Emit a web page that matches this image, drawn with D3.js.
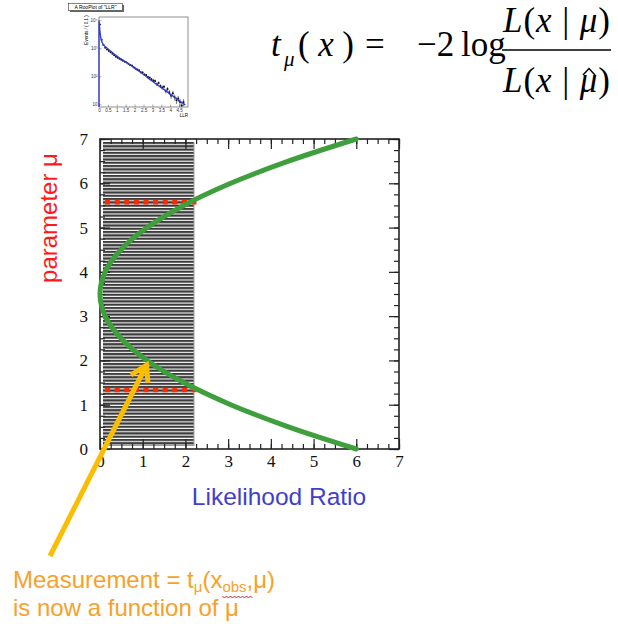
<!DOCTYPE html>
<html>
<head>
<meta charset="utf-8">
<script src="https://cdn.jsdelivr.net/npm/d3@7"></script>
<style>
  body { margin: 0; background: #fff; }
  svg { display: block; }
  .serif { font-family: "Liberation Serif", "DejaVu Serif", serif; }
  .sans { font-family: "Liberation Sans", Arial, sans-serif; }
</style>
</head>
<body>
<div id="chart"></div>
<script>
// Main curve: t_mu(x_obs) against parameter mu
var muVals  = [0, 0.5, 1, 1.5, 2, 2.5, 3, 3.5, 4, 4.5, 5, 5.5, 6, 6.5, 7];
var llrVals = [6.0, 4.41, 3.06, 1.96, 1.10, 0.49, 0.12, 0.0, 0.12, 0.49, 1.10, 1.96, 3.06, 4.41, 6.0];

// Red dotted interval lines (mu levels) and their x extent
var cutLevels = [1.33, 5.57];
var cutRange = [0.12, 2.27];

// Hatched band (llr range)
var hatchRange = [0, 2.2];

var xTicks = [0, 1, 2, 3, 4, 5, 6, 7];
var yTicks = [0, 1, 2, 3, 4, 5, 6, 7];

// Inset RooPlot of LLR: fitted curve and data
var fitX = [0, 0, 0.02, 0.05, 0.1, 0.2, 0.4, 0.6, 0.8, 1.0, 1.5, 2.0, 2.5, 3.0, 3.5, 4.0, 4.5, 4.85];
var fitY = [8, 9500, 7000, 4200, 2400, 1500, 1080, 840, 660, 530, 330, 195, 115, 66, 39, 23, 13.5, 9.5];
var ptX = [0.05, 0.15, 0.25, 0.35, 0.45, 0.55, 0.65, 0.75, 0.85, 0.95, 1.05, 1.15, 1.25, 1.35, 1.45, 1.55, 1.65, 1.75, 1.85, 1.95,
           2.05, 2.15, 2.25, 2.35, 2.45, 2.55, 2.65, 2.75, 2.85, 2.95, 3.05, 3.15, 3.25, 3.35, 3.45, 3.55, 3.65, 3.75, 3.85, 3.95,
           4.05, 4.15, 4.25, 4.35, 4.45, 4.55, 4.65, 4.75];
var ptY = [7000, 2000, 1300, 1050, 900, 800, 720, 640, 560, 500, 460, 420, 390, 360, 330, 310, 280, 250, 240, 210,
           190, 175, 165, 140, 135, 115, 110, 95, 88, 78, 70, 68, 52, 58, 45, 40, 42, 30, 35, 27,
           20, 25, 18, 14, 16, 12, 9, 12];
var insetYTicks = [10, 100, 1000, 10000];
var insetYLabels = ["10", "10²", "10³", "10⁴"];
var insetXTicks = [0, 0.5, 1, 1.5, 2, 2.5, 3, 3.5, 4, 4.5];

var W = 618, H = 624;
var svg = d3.select("#chart").append("svg")
  .attr("width", W).attr("height", H);
svg.append("rect").attr("width", W).attr("height", H).attr("fill", "#fff");

//Scales for main frame
var x = d3.scaleLinear().domain([0, 7]).range([100, 399]);
var y = d3.scaleLinear().domain([0, 7]).range([449, 139]);

// hatch pattern
var defs = svg.append("defs");
var pat = defs.append("pattern").attr("id", "hatch")
  .attr("patternUnits", "userSpaceOnUse")
  .attr("width", 10).attr("height", 3.3);
pat.append("rect").attr("width", 10).attr("height", 3.3).attr("fill", "#fff");
pat.append("rect").attr("width", 10).attr("height", 2.2).attr("fill", "#3c3c3c");

svg.append("rect")
  .attr("x", x(hatchRange[0]) + 3)
  .attr("y", y(7) + 3)
  .attr("width", x(hatchRange[1]) - x(hatchRange[0]) - 3)
  .attr("height", y(0) - y(7) - 6)
  .attr("fill", "url(#hatch)");
svg.append("line")
  .attr("x1", x(hatchRange[1])).attr("x2", x(hatchRange[1]))
  .attr("y1", y(7) + 3).attr("y2", y(0) - 3)
  .attr("stroke", "#999").attr("stroke-width", 1);

// axes (ticks inward, ROOT style)
var minor = d3.range(0, 7.001, 0.25);
function ax(axis, vals, size, labels) {
  return axis.tickValues(vals).tickSize(size).tickFormat(labels ? d3.format("d") : "");
}
var gB = svg.append("g").attr("transform", "translate(0," + y(0) + ")");
gB.call(ax(d3.axisBottom(x), minor, -5, false));
gB.append("g").call(ax(d3.axisBottom(x), xTicks, -10, true).tickPadding(6));
var gT = svg.append("g").attr("transform", "translate(0," + y(7) + ")");
gT.call(ax(d3.axisTop(x), minor, -5, false));
gT.append("g").call(ax(d3.axisTop(x), xTicks, -10, false));
var gL = svg.append("g").attr("transform", "translate(" + x(0) + ",0)");
gL.call(ax(d3.axisLeft(y), minor, -5, false));
gL.append("g").call(ax(d3.axisLeft(y), yTicks, -10, true).tickPadding(12));
var gR = svg.append("g").attr("transform", "translate(" + x(7) + ",0)");
gR.call(ax(d3.axisRight(y), minor, -5, false));
gR.append("g").call(ax(d3.axisRight(y), yTicks, -10, false));

svg.selectAll(".domain").remove();
svg.selectAll(".tick line").attr("stroke", "#222").attr("stroke-width", 1.2);
svg.selectAll(".tick text")
  .attr("class", "serif").attr("font-size", 17).attr("fill", "#111");

svg.append("rect")
  .attr("x", x(0)).attr("y", y(7))
  .attr("width", x(7) - x(0)).attr("height", y(0) - y(7))
  .attr("fill", "none").attr("stroke", "#222").attr("stroke-width", 1.6);

// red dotted lines
svg.selectAll(".cut").data(cutLevels).enter().append("line")
  .attr("class", "cut")
  .attr("x1", x(cutRange[0])).attr("x2", x(cutRange[1]))
  .attr("y1", function(d) { return y(d); }).attr("y2", function(d) { return y(d); })
  .attr("stroke", "#ff2a00").attr("stroke-width", 4.5)
  .attr("stroke-dasharray", "5,4.6");

// green curve
var curveData = muVals.map(function(m, i) { return [llrVals[i], m]; });
svg.append("path")
  .datum(curveData)
  .attr("d", d3.line()
    .x(function(d) { return x(d[0]); })
    .y(function(d) { return y(d[1]); })
    .curve(d3.curveCatmullRom))
  .attr("fill", "none").attr("stroke", "#3f9f3c").attr("stroke-width", 5)
  .attr("stroke-linecap", "round");

// axis titles
svg.append("text").attr("class", "sans")
  .attr("transform", "translate(57,218) rotate(-90)")
  .attr("text-anchor", "middle")
  .attr("font-size", 24).attr("fill", "#ff1a1a")
  .text("parameter μ");
svg.append("text").attr("class", "sans")
  .attr("x", 279).attr("y", 505)
  .attr("text-anchor", "middle")
  .attr("font-size", 24.5).attr("fill", "#3f3fcc")
  .text("Likelihood Ratio");

// yellow arrow
var arrowCol = "#fbbd00";
svg.append("line")
  .attr("x1", 50).attr("y1", 556).attr("x2", 146).attr("y2", 366)
  .attr("stroke", arrowCol).attr("stroke-width", 5);
svg.append("path")
  .attr("d", "M131,375 L146.5,365 L148,383")
  .attr("fill", "none").attr("stroke", arrowCol).attr("stroke-width", 5)
  .attr("stroke-linejoin", "miter");

// annotation text
var orange = "#f7a12b";
var t1 = svg.append("text").attr("class", "sans")
  .attr("x", 13).attr("y", 588).attr("font-size", 24).attr("fill", orange);
t1.append("tspan").text("Measurement = t");
t1.append("tspan").attr("font-size", 15).attr("dy", 4).text("μ");
t1.append("tspan").attr("dy", -4).text("(x");
t1.append("tspan").attr("font-size", 15).attr("dy", 4).text("obs");
t1.append("tspan").attr("dy", -4).text(",μ)");
svg.append("text").attr("class", "sans")
  .attr("x", 13).attr("y", 616).attr("font-size", 24).attr("fill", orange)
  .text("is now a function of μ");

// red wavy spell-check underline under "obs,"
var n1 = t1.node();
var wx0 = n1.getStartPositionOfChar(18).x, wx1 = n1.getEndPositionOfChar(21).x;
var wavy = "M" + wx0 + ",596";
for (var i = 0; wx0 + 2 * (i + 1) <= wx1; i++) {
  wavy += " l2," + (i % 2 === 0 ? 2 : -2);
}
svg.append("path").attr("d", wavy).attr("fill", "none")
  .attr("stroke", "#e02020").attr("stroke-width", 1);

// formula
var f = svg.append("g").attr("class", "serif").attr("fill", "#000").attr("font-size", 35);
f.append("text").attr("x", 271).attr("y", 56).attr("font-style", "italic").text("t");
f.append("text").attr("x", 284).attr("y", 66).attr("font-style", "italic").attr("font-size", 21).text("μ");
var px = f.append("text").attr("x", 298).attr("y", 56)
  .attr("textLength", 56).attr("lengthAdjust", "spacing");
px.append("tspan").text("(");
px.append("tspan").attr("font-style", "italic").text("x");
px.append("tspan").text(")");
f.append("text").attr("x", 365).attr("y", 56).text("=");
f.append("text").attr("x", 417).attr("y", 56).text("−2");
f.append("text").attr("x", 461).attr("y", 56).text("log");
[32, 92].forEach(function(yb) {
  var t = f.append("text").attr("x", 503).attr("y", yb)
    .attr("textLength", 107).attr("lengthAdjust", "spacing");
  t.append("tspan").attr("font-style", "italic").text("L");
  t.append("tspan").text("(");
  t.append("tspan").attr("font-style", "italic").text("x");
  t.append("tspan").text(" | ");
  t.append("tspan").attr("font-style", "italic").text("μ");
  t.append("tspan").text(")");
});
f.append("line").attr("x1", 502).attr("x2", 611).attr("y1", 50).attr("y2", 50)
  .attr("stroke", "#000").attr("stroke-width", 1.6);
// hat over the denominator mu
f.append("path").attr("d", "M583,75 L589,68.5 L595,75")
  .attr("fill", "none").attr("stroke", "#000").attr("stroke-width", 1.5);

// inset RooPlot
var xi = d3.scaleLinear().domain([0, 5]).range([99, 188]);
var yi = d3.scaleLog().domain([8, 13000]).range([107, 17]);
var ins = svg.append("g").attr("class", "sans");
ins.append("rect").attr("x", 70).attr("y", 5).attr("width", 54).attr("height", 7)
  .attr("fill", "#666");
ins.append("rect").attr("x", 68.5).attr("y", 3.5).attr("width", 54).attr("height", 7)
  .attr("fill", "#fff").attr("stroke", "#333").attr("stroke-width", 0.6);
ins.append("text").attr("x", 95.5).attr("y", 9).attr("text-anchor", "middle")
  .attr("font-size", 5).text("A RooPlot of \"LLR\"");
ins.append("rect").attr("x", xi(0)).attr("y", yi(13000))
  .attr("width", xi(5) - xi(0)).attr("height", yi(8) - yi(13000))
  .attr("fill", "none").attr("stroke", "#444").attr("stroke-width", 0.6);
ins.append("g").attr("transform", "translate(" + xi(0) + ",0)")
  .call(d3.axisLeft(yi).tickValues(insetYTicks).tickSize(-2.5)
    .tickFormat(function(d, i) { return insetYLabels[i]; }).tickPadding(1.5));
ins.append("g").attr("transform", "translate(0," + yi(8) + ")")
  .call(d3.axisBottom(xi).tickValues(insetXTicks).tickSize(-2.5).tickFormat(d3.format("")).tickPadding(1.5));
ins.selectAll(".domain").remove();
ins.selectAll(".tick line").attr("stroke", "#555").attr("stroke-width", 0.5);
ins.selectAll(".tick text").attr("font-size", 4.5).attr("fill", "#333");
ins.append("text").attr("transform", "translate(88,30) rotate(-90)")
  .attr("text-anchor", "middle").attr("font-size", 4.5).text("Events / ( 0.1 )");
ins.append("text").attr("x", 188).attr("y", 117).attr("text-anchor", "end")
  .attr("font-size", 4.5).text("LLR");

var pts = ptX.map(function(v, i) { return [v, ptY[i]]; });
ins.selectAll(".err").data(pts).enter().append("line")
  .attr("x1", function(d) { return xi(d[0]); }).attr("x2", function(d) { return xi(d[0]); })
  .attr("y1", function(d) { return yi(d[1] + Math.sqrt(d[1])); })
  .attr("y2", function(d) { return yi(Math.max(8, d[1] - Math.sqrt(d[1]))); })
  .attr("stroke", "#222").attr("stroke-width", 0.6);
ins.selectAll(".pt").data(pts).enter().append("circle")
  .attr("cx", function(d) { return xi(d[0]); }).attr("cy", function(d) { return yi(d[1]); })
  .attr("r", 1).attr("fill", "#111");
var fit = fitX.map(function(v, i) { return [v, fitY[i]]; });
ins.append("path").datum(fit)
  .attr("d", d3.line().x(function(d) { return xi(d[0]); }).y(function(d) { return yi(d[1]); }).curve(d3.curveMonotoneX))
  .attr("fill", "none").attr("stroke", "#2b3bd6").attr("stroke-width", 1.3);
</script>
</body>
</html>
